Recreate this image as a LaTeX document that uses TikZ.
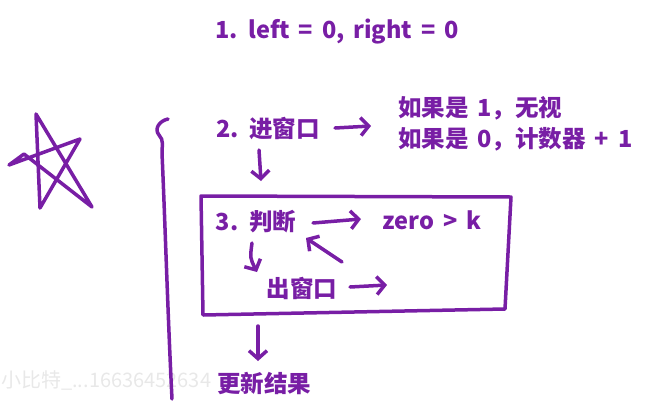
\documentclass[tikz,border=0pt]{standalone}
\usepackage{fontspec}
\setmainfont{Noto Sans CJK SC}
\usetikzlibrary{arrows.meta}
\definecolor{pp}{RGB}{120,30,165}
\definecolor{wm}{RGB}{232,232,232}
\newcommand\widesp{\spaceskip=0.38em\relax}
\tikzset{
  txt/.style={text=pp, font=\fontsize{23.5}{26}\selectfont\bfseries, execute at begin node=\widesp, inner sep=0pt, anchor=center},
  pen/.style={draw=pp, line width=3.5pt, line cap=round, line join=round},
  arr/.style={pen, -{Straight Barb[length=8pt,width=18pt]}},
  wmark/.style={text=wm, font=\fontsize{20}{24}\selectfont, inner sep=0pt, anchor=west}
}
\begin{document}
\begin{tikzpicture}[x=1pt,y=-1pt]
\useasboundingbox (0,0) rectangle (662,413);
% texts
\node[txt] (n1) at (337,32) {1. left = 0, right = 0};
\node[txt] (n2) at (268,129) {2. 进窗口};
\node[txt, anchor=west] (r1) at (398,108) {如果是 1，无视};
\node[txt, anchor=west] (r2) at (398,139) {如果是 0，计数器 + 1};
\node[txt] (n3) at (256,222) {3. 判断};
\node[txt] (zk) at (432,220) {zero > k};
\node[txt] (out) at (302,288) {出窗口};
\node[txt] (res) at (264,383) {更新结果};
\node[wmark] (wmk) at (1,380) {小比特\_...16636452634};
% star
\draw[pen] (24,154) -- (9,165) -- (80,139) -- (40,208) -- (36,114) -- (92,207) -- cycle;
% bracket line
\draw[pen] (168,119) .. controls (159,121) and (154,129) .. (159,135)
  .. controls (164,140) and (162,146) .. (162,153)
  .. controls (165,220) and (168,320) .. (172,399);
% box
\draw[pen] (201,196) -- (511,197) -- (505,309) -- (203,315) -- cycle;
% connector coordinates
\coordinate (a1s) at (335,128); \coordinate (a1e) at (371,126);
\coordinate (a2s) at (259,150); \coordinate (a2e) at (261,181);
\coordinate (a3s) at (313,223); \coordinate (a3e) at (361,219);
\coordinate (a4s) at (342,262); \coordinate (a4e) at (306,238);
\coordinate (a5s) at (252,243); \coordinate (a5e) at (257,272);
\coordinate (a6s) at (350,287); \coordinate (a6e) at (387,285);
\coordinate (a7s) at (258,326); \coordinate (a7e) at (258,361);
\draw[arr] (a1s) -- (a1e);
\draw[arr] (a2s) -- (a2e);
\draw[arr] (a3s) -- (a3e);
\draw[arr] (a4s) -- (a4e);
\draw[arr] (a5s) .. controls (250,258) .. (a5e);
\draw[arr] (a6s) -- (a6e);
\draw[arr] (a7s) -- (a7e);
\end{tikzpicture}
\end{document}
